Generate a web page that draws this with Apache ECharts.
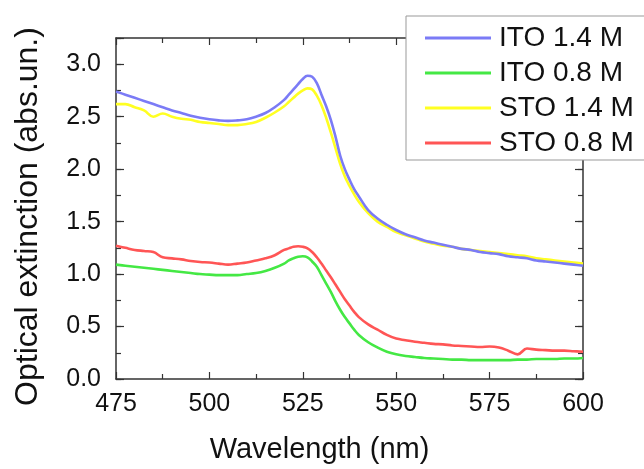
<!DOCTYPE html>
<html>
<head>
<meta charset="utf-8">
<script src="https://cdn.jsdelivr.net/npm/echarts@6/dist/echarts.min.js"></script>
<style>
html,body{margin:0;padding:0;background:#fff;}
#chart{width:644px;height:469px;}
</style>
</head>
<body>
<div id="chart"></div>
<script>
// Wavelength grid (nm): 2.5 nm steps, 1.25 nm steps around the plasmon peak
const wavelengths = [475,477.5,480,482.5,485,487.5,490,492.5,495,497.5,500,502.5,505,507.5,510,512.5,515,517.5,
  520,521.25,522.5,523.75,525,526.25,527.5,528.75,530,531.25,532.5,533.75,535,536.25,537.5,538.75,540,
  542.5,545,547.5,550,552.5,555,557.5,560,562.5,565,567.5,570,572.5,575,577.5,580,582.5,585,587.5,590,592.5,595,597.5,600];

const ito14 = [2.74,2.71,2.68,2.65,2.62,2.59,2.56,2.535,2.51,2.49,2.475,2.465,2.46,2.465,2.475,2.50,2.535,2.59,
  2.66,2.71,2.76,2.81,2.86,2.89,2.88,2.82,2.71,2.60,2.47,2.31,2.13,2.00,1.90,1.81,1.74,
  1.61,1.53,1.47,1.42,1.38,1.35,1.32,1.30,1.28,1.26,1.24,1.23,1.21,1.20,1.19,1.17,1.16,1.15,1.13,1.12,1.11,1.10,1.09,1.08];

const ito08 = [1.09,1.08,1.07,1.06,1.05,1.04,1.03,1.02,1.01,1.00,0.995,0.99,0.99,0.99,1.00,1.01,1.03,1.06,
  1.10,1.13,1.15,1.165,1.17,1.16,1.12,1.07,0.99,0.91,0.83,0.74,0.66,0.59,0.53,0.47,0.42,
  0.35,0.30,0.26,0.235,0.22,0.21,0.20,0.195,0.19,0.185,0.185,0.18,0.18,0.18,0.18,0.18,0.185,0.185,0.19,0.19,0.19,0.195,0.195,0.20];

const sto14 = [2.62,2.62,2.59,2.56,2.50,2.53,2.50,2.48,2.47,2.45,2.44,2.43,2.42,2.42,2.43,2.45,2.49,2.54,
  2.60,2.64,2.68,2.72,2.75,2.77,2.76,2.70,2.61,2.49,2.35,2.20,2.05,1.93,1.84,1.76,1.69,
  1.58,1.50,1.45,1.40,1.37,1.34,1.31,1.29,1.27,1.26,1.24,1.23,1.22,1.21,1.20,1.19,1.18,1.17,1.15,1.14,1.13,1.12,1.11,1.10];

const sto08 = [1.27,1.25,1.23,1.22,1.21,1.16,1.15,1.14,1.125,1.115,1.11,1.10,1.09,1.10,1.11,1.13,1.15,1.18,
  1.23,1.245,1.26,1.265,1.26,1.245,1.21,1.16,1.10,1.035,0.97,0.90,0.83,0.76,0.70,0.64,0.59,
  0.52,0.47,0.42,0.385,0.37,0.355,0.345,0.335,0.33,0.32,0.315,0.31,0.305,0.31,0.30,0.27,0.235,0.29,0.28,0.275,0.27,0.27,0.265,0.26];

const seriesNames = ['ITO 1.4 M','ITO 0.8 M','STO 1.4 M','STO 0.8 M'];
const seriesValues = [ito14, ito08, sto14, sto08];
const seriesColors = ['#7b7bf6','#44e844','#ffff22','#ff5555'];

const xTicks = {min:475, max:600, interval:25};
const yTicks = {min:0, max:3.25, interval:0.5, minor:0.25};

const fontFamily = 'Liberation Sans, Arial, sans-serif';
const axisColor = '#333';

const chart = echarts.init(document.getElementById('chart'), null, {renderer:'canvas'});

function xAxisDef(pos, showLabel){
  return {
    type:'value', position:pos, min:xTicks.min, max:xTicks.max, interval:xTicks.interval,
    name: showLabel ? 'Wavelength (nm)' : '',
    nameLocation:'middle', nameGap:56,
    nameTextStyle:{fontSize:29, color:'#111', fontFamily, padding:[0,60,0,0]},
    axisLine:{show:true, onZero:false, lineStyle:{color:axisColor, width:1.5}},
    axisTick:{show:true, inside:true, length:7, lineStyle:{color:axisColor, width:1.2}},
    minorTick:{show:true, splitNumber:2, length:5, lineStyle:{color:axisColor, width:1.2}},
    axisLabel:{show:showLabel, fontSize:25, color:'#111', fontFamily, margin:13},
    splitLine:{show:false}
  };
}
function yAxisDef(pos, interval, tickLen, showLabel, showLine){
  return {
    type:'value', position:pos, min:yTicks.min, max:yTicks.max, interval:interval,
    name: showLabel ? 'Optical extinction (abs.un.)' : '',
    nameLocation:'middle', nameGap:72,
    nameTextStyle:{fontSize:32, color:'#111', fontFamily, padding:[0,16,0,0]},
    axisLine:{show:showLine, onZero:false, lineStyle:{color:axisColor, width:1.5}},
    axisTick:{show:true, inside:true, length:tickLen, lineStyle:{color:axisColor, width:1.2}},
    axisLabel:{show:showLabel, fontSize:25, color:'#111', fontFamily, margin:15,
      formatter: v => (Math.abs(v*2 - Math.round(v*2)) < 1e-6 ? v.toFixed(1) : '')},
    splitLine:{show:false}
  };
}

const series = seriesNames.map((name, i) => ({
  name, type:'line', xAxisIndex:0, yAxisIndex:0,
  data: wavelengths.map((w, j) => [w, seriesValues[i][j]]),
  smooth:0.4, showSymbol:false, symbol:'none',
  lineStyle:{color:seriesColors[i], width:2.6},
  itemStyle:{color:seriesColors[i]},
  z: 10 - i
}));

chart.setOption({
  backgroundColor:'#fff',
  animation:false,
  grid:{left:116, right:61, top:38, bottom:84, containLabel:false},
  xAxis:[xAxisDef('bottom', true), xAxisDef('top', false)],
  yAxis:[
    yAxisDef('left', yTicks.interval, 8, true, true),
    yAxisDef('left', yTicks.minor, 5, false, false),
    yAxisDef('right', yTicks.interval, 8, false, true),
    yAxisDef('right', yTicks.minor, 5, false, false)
  ],
  legend:{
    data: seriesNames,
    orient:'vertical', left:406, top:16,
    icon:'rect', itemWidth:66, itemHeight:3, itemGap:5,
    padding:[7,40,2,19],
    backgroundColor:'#fff', borderColor:'#999', borderWidth:1,
    textStyle:{fontSize:28, color:'#111', fontFamily, lineHeight:30, padding:[0,0,0,3]},
    z:20
  },
  series
});
</script>
</body>
</html>
